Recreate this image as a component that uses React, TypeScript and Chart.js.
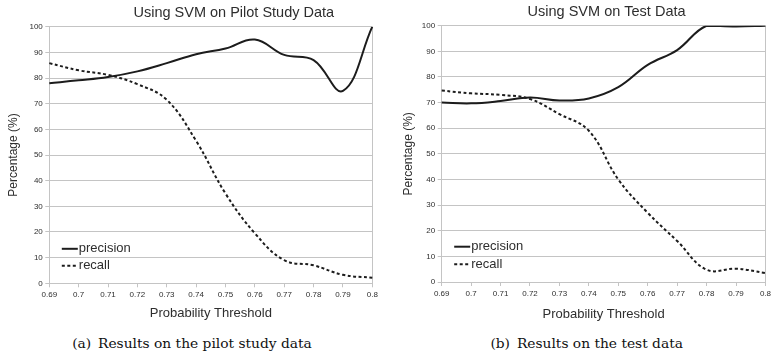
import { useEffect, useRef } from "react";
import { Chart, registerables } from "chart.js";

Chart.register(...registerables);

// ---- data ----
const thresholds = ["0.69", "0.7", "0.71", "0.72", "0.73", "0.74", "0.75", "0.76", "0.77", "0.78", "0.79", "0.8"];
const pilotPrecision = [78, 79.1, 80.4, 82.6, 85.8, 89.3, 91.5, 95, 89, 87, 75, 100];
const pilotRecall = [85.8, 83, 81.2, 77.6, 71.5, 55.5, 35, 19.5, 9, 7, 3.3, 2.2];
const testPrecision = [70, 69.7, 70.6, 72, 70.8, 71.6, 76, 84.7, 90.5, 100, 99.7, 100];
const testRecall = [74.7, 73.6, 73, 71.4, 65.5, 59, 40, 27, 16, 4.8, 5.2, 3.5];
const seriesNames = ["precision", "recall"];
const yMin = 0;
const yMax = 100;
const yStep = 10;

const GRID = "#c4c4c4";
const TEXT = "#2e2e2e";
const LINE = "#1c1c1c";

const titlePlugin = {
  id: "svmTitle",
  afterDraw(chart: any, _args: any, opts: any) {
    const { ctx, chartArea } = chart;
    ctx.save();
    ctx.fillStyle = TEXT;
    ctx.font = `${opts.size}px "Liberation Sans", Arial, sans-serif`;
    ctx.textAlign = "center";
    ctx.textBaseline = "middle";
    ctx.fillText(opts.text, (chartArea.left + chartArea.right) / 2 + opts.dx, opts.y);
    ctx.restore();
  },
};

const legendPlugin = {
  id: "innerLegend",
  afterDatasetsDraw(chart: any, _args: any, opts: any) {
    const { ctx, chartArea } = chart;
    ctx.save();
    chart.data.datasets.forEach((ds: any, i: number) => {
      const y = chartArea.bottom - opts.bottomOffsets[i];
      const x0 = chartArea.left + opts.left;
      ctx.beginPath();
      ctx.setLineDash(ds.borderDash || []);
      ctx.lineWidth = ds.borderWidth;
      ctx.strokeStyle = ds.borderColor;
      ctx.moveTo(x0, y);
      ctx.lineTo(x0 + opts.lineLength, y);
      ctx.stroke();
      ctx.setLineDash([]);
      ctx.fillStyle = TEXT;
      ctx.font = `${opts.size}px "Liberation Sans", Arial, sans-serif`;
      ctx.textAlign = "left";
      ctx.textBaseline = "middle";
      ctx.fillText(ds.label, x0 + opts.lineLength + opts.gap, y);
    });
    ctx.restore();
  },
};

type Layout = {
  title: string;
  titleDx: number;
  titleY: number;
  yWidth: number;
  xHeight: number;
  padRight: number;
  padTop: number;
  yTitlePad: number;
  xTitlePad: number;
  legendOffsets: number[];
};

function SvmChart({ precision, recall, layout }: { precision: number[]; recall: number[]; layout: Layout }) {
  const ref = useRef<HTMLCanvasElement | null>(null);
  useEffect(() => {
    if (!ref.current) return;
    const last = thresholds.length - 1;
    const chart = new Chart(ref.current, {
      type: "line",
      data: {
        labels: thresholds,
        datasets: [
          {
            label: seriesNames[0],
            data: precision,
            borderColor: LINE,
            borderWidth: 2,
            pointRadius: 0,
            tension: 0.4,
            fill: false,
          },
          {
            label: seriesNames[1],
            data: recall,
            borderColor: LINE,
            borderWidth: 2,
            borderDash: [3, 2.5],
            pointRadius: 0,
            tension: 0.4,
            fill: false,
          },
        ],
      },
      options: {
        responsive: false,
        animation: false,
        layout: { padding: { left: 0, right: layout.padRight, top: layout.padTop, bottom: 0 } },
        plugins: {
          legend: { display: false },
          title: { display: false },
          tooltip: { enabled: false },
          svmTitle: { text: layout.title, dx: layout.titleDx, y: layout.titleY, size: 14.5 },
          innerLegend: { left: 12.5, lineLength: 16, gap: 1, size: 13, bottomOffsets: layout.legendOffsets },
        } as any,
        scales: {
          x: {
            type: "category",
            offset: false,
            grid: {
              display: true,
              drawOnChartArea: true,
              drawTicks: true,
              tickLength: 4,
              color: (c: any) => (c.index === last ? GRID : "rgba(0,0,0,0)"),
              tickColor: GRID,
            },
            border: { display: true, color: GRID },
            ticks: {
              autoSkip: false,
              maxRotation: 0,
              color: TEXT,
              padding: 3,
              font: { family: '"Liberation Sans", Arial, sans-serif', size: 8 },
            },
            title: {
              display: true,
              text: "Probability Threshold",
              color: TEXT,
              font: { family: '"Liberation Sans", Arial, sans-serif', size: 13 },
              padding: { top: 0, bottom: layout.xTitlePad },
            },
            afterFit: (s: any) => {
              s.height = layout.xHeight;
            },
          },
          y: {
            min: yMin,
            max: yMax,
            grid: { color: GRID, tickLength: 4, drawTicks: true },
            border: { display: true, color: GRID },
            ticks: {
              stepSize: yStep,
              color: TEXT,
              padding: 2.5,
              font: { family: '"Liberation Sans", Arial, sans-serif', size: 8 },
            },
            title: {
              display: true,
              text: "Percentage (%)",
              color: TEXT,
              font: { family: '"Liberation Sans", Arial, sans-serif', size: 12 },
              padding: { top: layout.yTitlePad, bottom: 0 },
            },
            afterFit: (s: any) => {
              s.width = layout.yWidth;
            },
          },
        },
      },
      plugins: [titlePlugin, legendPlugin],
    });
    return () => chart.destroy();
  }, [precision, recall, layout]);
  return <canvas ref={ref} width={387} height={325} style={{ width: 387, height: 325, display: "block" }} />;
}

const leftLayout: Layout = {
  title: "Using SVM on Pilot Study Data",
  titleDx: 23,
  titleY: 12.7,
  yWidth: 49.3,
  xHeight: 41.7,
  padRight: 14.7,
  padTop: 26.7,
  yTitlePad: 6.1,
  xTitlePad: 4.2,
  legendOffsets: [34.5, 17.6],
};

const rightLayout: Layout = {
  title: "Using SVM on Test Data",
  titleDx: 3,
  titleY: 11.7,
  yWidth: 54.7,
  xHeight: 43,
  padRight: 7.3,
  padTop: 25.7,
  yTitlePad: 14.8,
  xTitlePad: 3.2,
  legendOffsets: [35.3, 17.7],
};

const captionStyle: React.CSSProperties = {
  position: "absolute",
  top: 334.5,
  width: 387,
  textAlign: "center",
  fontFamily: '"DejaVu Serif", serif',
  fontSize: 13.8,
  lineHeight: "17px",
  color: "#111",
  whiteSpace: "pre",
};

export default function App() {
  return (
    <div style={{ position: "absolute", left: 0, top: 0, width: 774, height: 356, background: "#fff", overflow: "hidden" }}>
      <div style={{ position: "absolute", left: 0, top: 0 }}>
        <SvmChart precision={pilotPrecision} recall={pilotRecall} layout={leftLayout} />
      </div>
      <div style={{ position: "absolute", left: 387, top: 0 }}>
        <SvmChart precision={testPrecision} recall={testRecall} layout={rightLayout} />
      </div>
      <div style={{ ...captionStyle, left: -1.5 }}>{"(a)\u2002Results on the pilot study data"}</div>
      <div style={{ ...captionStyle, left: 393.2 }}>{"(b)\u2002Results on the test data"}</div>
    </div>
  );
}
